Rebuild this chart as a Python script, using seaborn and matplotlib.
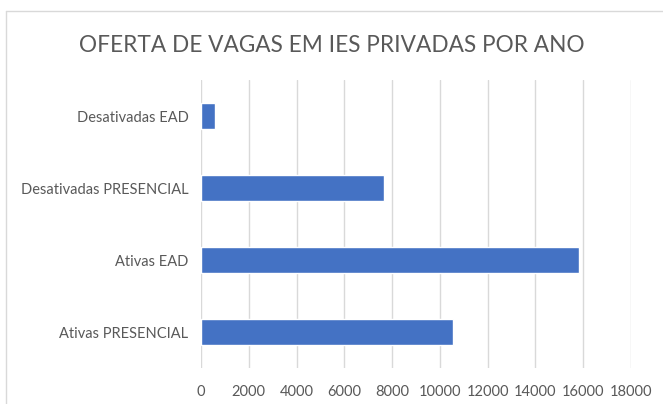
import matplotlib
matplotlib.use('Agg')
import matplotlib.pyplot as plt
import seaborn as sns
import pandas as pd

categories = ['Desativadas EAD', 'Desativadas PRESENCIAL', 'Ativas EAD', 'Ativas PRESENCIAL']
vagas = [600, 7680, 15820, 10560]
x_ticks = [0, 2000, 4000, 6000, 8000, 10000, 12000, 14000, 16000, 18000]

TEXT = '#595959'
GRID = '#D9D9D9'
BAR = '#4472C4'

sns.set_style('white')
plt.rcParams['font.family'] = ['Lato', 'DejaVu Sans']

df = pd.DataFrame({'categoria': categories, 'vagas': vagas})

fig = plt.figure(figsize=(6.63, 4.04), dpi=100)
ax = fig.add_axes([201 / 663, 1 - 368 / 404, 430 / 663, 288 / 404])

sns.barplot(data=df, x='vagas', y='categoria', color=BAR, width=0.35,
            saturation=1, ax=ax, zorder=3)

ax.set_xlim(0, 18000)
ax.set_xticks(x_ticks)
ax.set_xticklabels([str(t) for t in x_ticks])
ax.set_ylim(3.5, -0.5)
ax.grid(axis='x', color=GRID, linewidth=1, zorder=0)
ax.set_axisbelow(True)
for s in ax.spines.values():
    s.set_visible(False)
ax.tick_params(axis='both', length=0, labelsize=10.5, labelcolor=TEXT)
ax.tick_params(axis='y', pad=9)
ax.tick_params(axis='x', pad=12)
ax.set_xlabel('')
ax.set_ylabel('')

fig.text(0.5, 1 - 45 / 404, 'OFERTA DE VAGAS EM IES PRIVADAS POR ANO',
         ha='center', va='center', fontsize=16.3, color=TEXT)

# chart border (partially cropped in the original)
fig.add_artist(plt.Line2D([6 / 663, 6 / 663], [0, 1 - 11 / 404], color=GRID, lw=1))
fig.add_artist(plt.Line2D([6 / 663, 1], [1 - 11 / 404, 1 - 11 / 404], color=GRID, lw=1))

fig.savefig('out.png', dpi=100)
